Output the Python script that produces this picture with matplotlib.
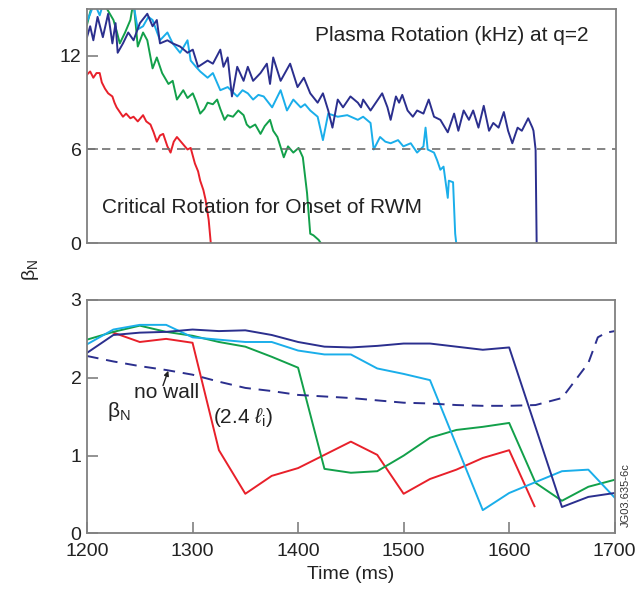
import matplotlib
matplotlib.use("Agg")
import matplotlib.pyplot as plt

plt.rcParams['font.family'] = ['Liberation Sans', 'DejaVu Sans']
plt.rcParams['mathtext.fontset'] = 'custom'
plt.rcParams['mathtext.rm'] = 'Liberation Sans'
plt.rcParams['mathtext.it'] = 'Liberation Sans:italic'

# -----------------------
# Data: plasma rotation at q=2 (kHz)
# -----------------------

red_rot_t = [1200, 1203, 1206, 1209, 1212, 1214, 1217, 1220, 1224, 1226, 1228, 1231, 1234,
             1237, 1241, 1244, 1248, 1253, 1256, 1260, 1263, 1266, 1269, 1272, 1276,
             1279, 1282, 1285, 1290, 1295, 1298, 1302, 1305, 1307, 1310, 1312, 1315, 1317]
red_rot = [10.8, 11.0, 10.6, 10.9, 10.9, 10.3, 9.9, 9.6, 9.4, 9.0, 8.7, 8.4, 8.1,
           8.3, 8.0, 8.1, 7.8, 8.2, 7.8, 7.6, 7.1, 6.5, 6.9, 7.0, 6.2,
           5.8, 6.5, 6.8, 6.4, 6.0, 6.1, 5.1, 4.6, 4.0, 3.4, 2.8, 1.5, 0.0]

green_rot_t = [1200, 1203, 1206, 1212, 1219, 1225, 1228, 1231, 1236, 1241, 1244, 1248, 1253,
               1257, 1262, 1266, 1271, 1277, 1281, 1285, 1288, 1291, 1295, 1300, 1303,
               1307, 1311, 1314, 1319, 1323, 1326, 1330, 1333, 1338, 1343, 1348, 1351,
               1354, 1359, 1364, 1368, 1373, 1376, 1380, 1386, 1390, 1395, 1400, 1404,
               1408, 1411, 1414, 1419, 1421]
green_rot = [14.0, 14.8, 15.5, 15.8, 15.0, 14.3, 13.6, 12.8, 13.5, 14.3, 15.5, 12.6, 13.5,
             13.0, 11.2, 11.9, 10.9, 10.2, 10.4, 9.2, 9.5, 9.8, 9.3, 9.6, 9.1,
             8.3, 8.6, 9.0, 8.9, 9.2, 8.6, 7.9, 8.2, 8.1, 8.5, 8.2, 7.6,
             7.4, 7.6, 7.0, 7.5, 7.9, 7.2, 6.8, 5.5, 6.2, 5.8, 6.1, 5.5,
             3.2, 0.6, 0.5, 0.2, 0.0]

cyan_rot_t = [1200, 1203, 1207, 1212, 1216, 1222, 1228, 1235, 1241, 1244, 1248, 1253, 1258,
              1262, 1269, 1276, 1281, 1288, 1295, 1298, 1303, 1307, 1314, 1319, 1326,
              1333, 1342, 1347, 1352, 1357, 1362, 1367, 1375, 1383, 1389, 1395, 1402,
              1406, 1411, 1418, 1423, 1428, 1437, 1446, 1456, 1461, 1468, 1471, 1477,
              1482, 1487, 1494, 1499, 1506, 1512, 1518, 1520, 1522, 1528, 1531, 1534,
              1537, 1541, 1542, 1546, 1548, 1549]
cyan_rot = [14.2, 14.7, 15.4, 14.6, 15.5, 15.2, 15.6, 15.1, 15.5, 15.3, 13.7, 13.9, 14.5,
            14.3, 13.0, 13.5, 12.8, 12.2, 13.0, 11.7, 11.3, 11.0, 10.6, 10.9, 9.8,
            10.0, 9.4, 9.8, 9.6, 9.2, 9.5, 9.4, 8.7, 9.8, 8.5, 9.2, 8.7,
            8.9, 8.5, 8.1, 6.6, 8.3, 8.1, 8.2, 7.9, 8.1, 7.7, 6.0, 6.8,
            6.5, 6.4, 6.6, 6.2, 6.4, 5.8, 6.2, 7.4, 6.0, 5.8, 5.3, 4.7,
            4.9, 2.9, 4.0, 3.9, 0.6, 0.0]

navy_rot_t = [1200, 1203, 1206, 1210, 1215, 1220, 1224, 1227, 1229, 1234, 1239, 1244, 1250,
              1257, 1262, 1266, 1269, 1276, 1281, 1288, 1295, 1300, 1305, 1314, 1319,
              1326, 1329, 1333, 1337, 1342, 1348, 1352, 1357, 1364, 1370, 1373, 1376,
              1383, 1392, 1399, 1405, 1411, 1418, 1423, 1428, 1432, 1437, 1442, 1449,
              1456, 1459, 1461, 1468, 1475, 1479, 1484, 1487, 1492, 1495, 1498, 1503,
              1508, 1512, 1518, 1523, 1528, 1534, 1541, 1547, 1551, 1556, 1561, 1565,
              1570, 1575, 1580, 1584, 1589, 1594, 1598, 1602, 1607, 1611, 1614, 1617,
              1621, 1622, 1624, 1625]
navy_rot = [13.2, 13.9, 13.0, 14.5, 13.2, 14.7, 12.8, 14.1, 12.2, 12.8, 13.5, 13.0, 14.1,
            14.7, 13.9, 14.3, 12.8, 13.0, 12.8, 12.6, 12.2, 12.4, 11.3, 11.7, 11.5,
            12.4, 11.3, 11.9, 9.4, 11.3, 10.4, 11.3, 10.4, 10.9, 11.5, 10.2, 11.9,
            10.4, 11.5, 10.0, 10.6, 9.6, 9.0, 9.6, 8.5, 7.4, 9.2, 8.7, 9.4,
            9.0, 8.7, 9.2, 8.5, 9.2, 9.6, 8.7, 7.9, 9.4, 9.0, 9.5, 8.5,
            8.1, 8.5, 8.3, 9.2, 8.1, 7.9, 7.1, 8.3, 7.2, 8.5, 7.9, 8.5,
            7.4, 8.8, 7.2, 7.7, 7.4, 8.4, 7.2, 6.4, 7.4, 7.2, 7.6, 8.0,
            7.4, 7.2, 6.0, 0.0]

critical_rot = 6.0

# -----------------------
# Data: beta_N
# -----------------------

red_beta_t = [1225, 1250, 1275, 1300, 1325, 1350, 1375, 1400, 1450, 1475, 1500, 1525, 1550, 1575, 1600, 1624]
red_beta = [2.58, 2.46, 2.50, 2.45, 1.07, 0.51, 0.74, 0.84, 1.18, 1.01, 0.51, 0.70, 0.82, 0.97, 1.07, 0.35]

green_beta_t = [1200, 1225, 1250, 1275, 1300, 1325, 1350, 1375, 1400, 1425, 1450, 1475, 1500,
                1525, 1550, 1575, 1600, 1625, 1650, 1675, 1700]
green_beta = [2.49, 2.59, 2.67, 2.59, 2.54, 2.46, 2.40, 2.27, 2.13, 0.83, 0.78, 0.80, 1.00,
              1.23, 1.33, 1.37, 1.42, 0.65, 0.42, 0.60, 0.69]

cyan_beta_t = [1200, 1225, 1250, 1275, 1300, 1325, 1350, 1375, 1400, 1425, 1450, 1475, 1500,
               1525, 1575, 1600, 1625, 1650, 1675, 1700]
cyan_beta = [2.43, 2.62, 2.68, 2.68, 2.52, 2.49, 2.46, 2.46, 2.35, 2.30, 2.30, 2.12, 2.05,
             1.97, 0.30, 0.52, 0.66, 0.80, 0.82, 0.46]

navy_beta_t = [1200, 1225, 1250, 1275, 1300, 1325, 1350, 1375, 1400, 1425, 1450, 1475, 1500,
               1525, 1550, 1575, 1600, 1650, 1675, 1700]
navy_beta = [2.32, 2.55, 2.58, 2.59, 2.62, 2.60, 2.61, 2.55, 2.46, 2.40, 2.39, 2.41, 2.44,
             2.44, 2.40, 2.36, 2.39, 0.34, 0.47, 0.52]

nowall_t = [1200, 1225, 1250, 1275, 1300, 1325, 1350, 1375, 1400, 1425, 1450, 1475, 1500,
            1525, 1550, 1575, 1600, 1625, 1650, 1675, 1684, 1692, 1700]
nowall = [2.28, 2.21, 2.15, 2.10, 2.04, 1.95, 1.87, 1.83, 1.78, 1.76, 1.74, 1.71, 1.68,
          1.67, 1.65, 1.64, 1.64, 1.65, 1.74, 2.19, 2.52, 2.58, 2.60]

x_ticks = [1200, 1300, 1400, 1500, 1600, 1700]

RED = "#e8202a"
GREEN = "#12a04a"
CYAN = "#1aaeea"
NAVY = "#2b2f8e"
GRAY = "#808080"
FS = 14
FS_TXT = 15

fig = plt.figure(figsize=(6.42, 5.9), dpi=100)
ax1 = fig.add_axes([0.1355, 0.588, 0.824, 0.3966])
ax2 = fig.add_axes([0.1355, 0.0958, 0.822, 0.3958])


def style(ax):
    for s in ax.spines.values():
        s.set_color(GRAY)
        s.set_linewidth(1.3)
    ax.tick_params(direction="in", length=8, width=1.2, color=GRAY,
                   labelsize=FS, labelcolor="#222222")
    ax.tick_params(axis="y", pad=4)
    ax.tick_params(axis="x", pad=7)


# -----------------------
# Top: rotation
# -----------------------

lw = 1.4
ax1.plot(red_rot_t, red_rot, color=RED, lw=lw)
ax1.plot(green_rot_t, green_rot, color=GREEN, lw=lw)
ax1.plot(cyan_rot_t, cyan_rot, color=CYAN, lw=lw)
ax1.plot(navy_rot_t, navy_rot, color=NAVY, lw=lw)
ax1.axhline(critical_rot, color="#707070", lw=1.2, dashes=(5, 4))
ax1.set_xlim(1200, 1700)
ax1.set_ylim(0, 15)
ax1.set_yticks([0, 6, 12])
ax1.set_xticks([])
style(ax1)
ax1.text(1674, 13.3, "Plasma Rotation (kHz) at q=2", fontsize=FS_TXT, ha="right", va="center",
         color="#222222")
ax1.text(1214, 2.25, "Critical Rotation for Onset of RWM", fontsize=FS_TXT, ha="left",
         va="center", color="#222222")

# -----------------------
# Bottom: beta_N
# -----------------------

ax2.plot(red_beta_t, red_beta, color=RED, lw=lw)
ax2.plot(green_beta_t, green_beta, color=GREEN, lw=lw)
ax2.plot(cyan_beta_t, cyan_beta, color=CYAN, lw=lw)
ax2.plot(navy_beta_t, navy_beta, color=NAVY, lw=lw)
ax2.plot(nowall_t, nowall, color=NAVY, lw=1.4, dashes=(6, 4))
ax2.set_xlim(1200, 1700)
ax2.set_ylim(0, 3)
ax2.set_yticks([0, 1, 2, 3])
ax2.set_xticks(x_ticks)
style(ax2)
ax2.set_xlabel("Time (ms)", fontsize=FS, labelpad=4, color="#222222")

ax2.text(1219, 1.57, r"β$_{\mathrm{N}}$", fontsize=FS_TXT, ha="left", va="center",
         color="#222222")
ax2.text(1245, 1.81, "no wall", fontsize=FS_TXT, ha="left", va="center", color="#222222")
ax2.text(1319, 1.49, r"(2.4 $\ell_{\mathrm{i}}$)", fontsize=FS_TXT, ha="left", va="center",
         color="#222222")
ax2.annotate("", xy=(1277, 2.09), xytext=(1272, 1.90),
             arrowprops=dict(arrowstyle="-|>", color="#222222", lw=1.0,
                             mutation_scale=7, shrinkA=0, shrinkB=0))

fig.text(0.047, 0.542, r"β$_{\mathrm{N}}$", fontsize=FS, rotation=90, ha="center", va="center",
         color="#222222")
fig.text(0.974, 0.161, "JG03.635-6c", fontsize=8, rotation=90, ha="center", va="center",
         color="#333333")

fig.savefig("out.png", dpi=100)
